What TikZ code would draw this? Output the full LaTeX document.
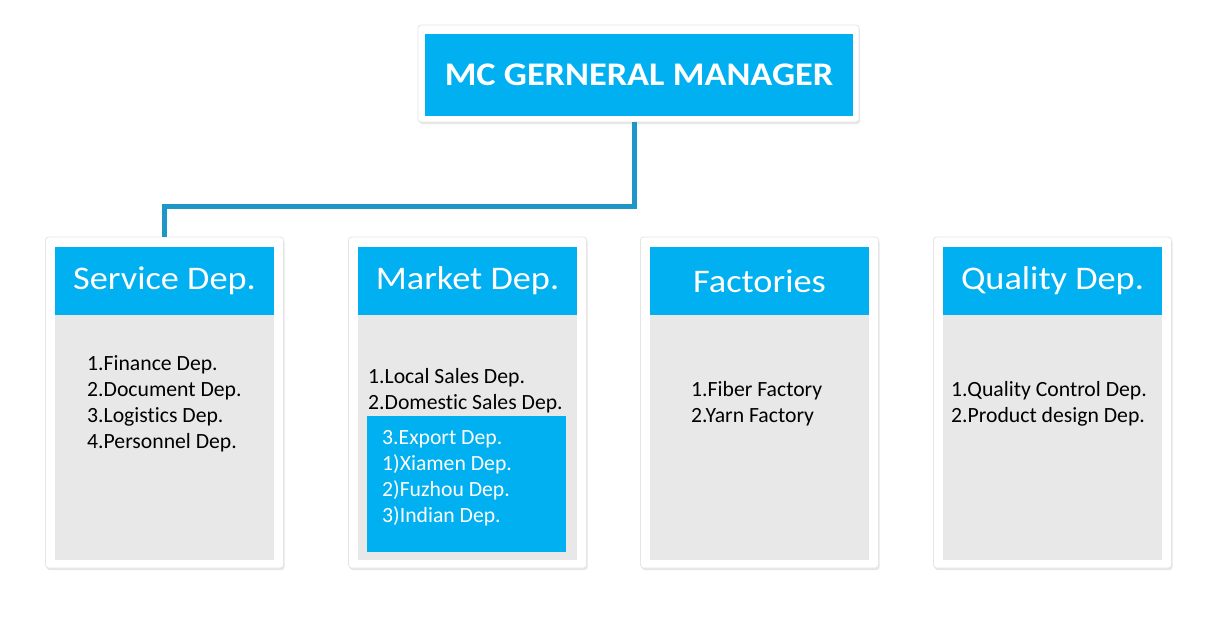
\documentclass[tikz,border=0pt]{standalone}
\usepackage{fontspec}
\setmainfont{Carlito}[Ligatures=NoCommon]
\newfontfamily\headfont[FakeStretch=1.1, Ligatures=NoCommon]{Carlito}
\usetikzlibrary{shadows}
\definecolor{mcblue}{HTML}{00B0F0}
\definecolor{mcline}{HTML}{1E96C8}
\definecolor{mcgrey}{HTML}{E8E8E8}

\begin{document}
\begin{tikzpicture}[x=1pt, y=-1pt]
\tikzstyle{frame}=[rectangle, rounded corners=3pt, fill=white, draw=black!10, line width=0.8pt, inner sep=0pt, minimum width=238pt, minimum height=331pt, drop shadow={shadow xshift=1pt, shadow yshift=-2pt, opacity=0.2}]
\tikzstyle{head}=[rectangle, fill=mcblue, text=white, inner sep=0pt, minimum width=219pt, minimum height=68pt, font=\headfont\fontsize{33}{39}\selectfont]
\tikzstyle{body}=[rectangle, fill=mcgrey, inner sep=0pt, minimum width=219pt, minimum height=246pt]
\tikzstyle{item}=[anchor=base west, inner sep=0pt, font=\fontsize{21.7}{26}\selectfont]
\tikzstyle{link}=[mcline, line width=5pt]

\useasboundingbox (0,0) rectangle (1222,622);

% Manager
\node at (638.5, 73.5) [frame, minimum width=441pt, minimum height=97pt] (gm_frame) {};
\node at (639, 75) [head, minimum width=428pt, minimum height=82pt, font=\headfont\bfseries\fontsize{33}{39}\selectfont] (gm) {MC GERNERAL MANAGER};

% Departments
\foreach \x/\name/\label in {55/svc/Service Dep., 358/mkt/Market Dep., 650/fac/Factories, 943/qlt/Quality Dep.}
{
\node at (\x+109.5, 402.5) [frame] (\name_frame) {};
\node at (\x+109.5, 437) [body] (\name_body) {};
\node at (\x+109.5, 281) [head] (\name) {\label};
}
\node at (466.5, 484) [rectangle, fill=mcblue, inner sep=0pt, minimum width=199pt, minimum height=136pt] (mkt_export) {};

% Service
\foreach \t [count=\i] in {1.Finance Dep., 2.Document Dep., 3.Logistics Dep., 4.Personnel Dep.}
\node at (87, 344+\i*26) [item] (svc_\i) {\t};

% Market
\foreach \t [count=\i] in {1.Local Sales Dep., 2.Domestic Sales Dep.}
\node at (368, 357+\i*26) [item] (mkt_\i) {\t};
\foreach \t [count=\i] in {3.Export Dep., 1)Xiamen Dep., 2)Fuzhou Dep., 3)Indian Dep.}
\node at (382, 418+\i*26) [item, white] (exp_\i) {\t};

% Factories
\foreach \t [count=\i] in {1.Fiber Factory, 2.Yarn Factory}
\node at (691, 370+\i*26) [item] (fac_\i) {\t};

% Quality
\foreach \t [count=\i] in {1.Quality Control Dep., 2.Product design Dep.}
\node at (951, 370+\i*26) [item] (qlt_\i) {\t};

% Manager -> Service
\coordinate (drop) at (634, 122);
\draw [link, black, opacity=0.2, shift={(1,2)}] (drop) -- ++(0,84) -| (svc_frame.north);
\draw [link] (drop) -- ++(0,84) -| (svc_frame.north);
\end{tikzpicture}
\end{document}
